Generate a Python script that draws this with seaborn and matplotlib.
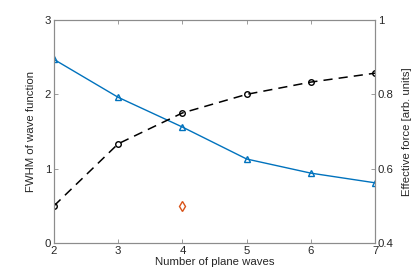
import pandas as pd
import seaborn as sns
import matplotlib
matplotlib.use("Agg")
import matplotlib.pyplot as plt

# data
n_waves = [2, 3, 4, 5, 6, 7]
fwhm = [2.47, 1.96, 1.56, 1.13, 0.94, 0.81]
eff_force = [0.5, 0.667, 0.75, 0.8, 0.833, 0.857]
single_x = [4]
single_y = [0.5]

x_ticks = [2, 3, 4, 5, 6, 7]
left_ticks = [0, 1, 2, 3]
right_ticks = [0.4, 0.6, 0.8, 1.0]
right_labels = ["0.4", "0.6", "0.8", "1"]

sns.set_style("white")
plt.rcParams["font.family"] = ["Liberation Sans", "DejaVu Sans"]
plt.rcParams["font.size"] = 8.2

blue = "#0072BD"
orange = "#D95319"
axis_col = "#262626"

fig = plt.figure(figsize=(4.15, 2.74), dpi=100)
ax = fig.add_axes([0.130, 0.113, 0.774, 0.814])
ax2 = ax.twinx()

df = pd.DataFrame({"n": n_waves, "fwhm": fwhm, "force": eff_force})

sns.lineplot(data=df, x="n", y="fwhm", ax=ax, color=blue, lw=1.0,
             marker="^", markersize=5, markerfacecolor="none",
             markeredgecolor=blue, markeredgewidth=1.0)
sns.lineplot(data=df, x="n", y="force", ax=ax2, color="black", lw=1.1,
             linestyle=(0, (6, 4)), marker="o", markersize=4,
             markerfacecolor="none", markeredgecolor="black",
             markeredgewidth=1.0)
sns.lineplot(x=single_x, y=single_y, ax=ax2, color=orange, lw=0,
             marker="d", markersize=5, markerfacecolor="none",
             markeredgecolor=orange, markeredgewidth=1.0)

ax.set_xlim(2, 7)
ax.set_ylim(0, 3)
ax2.set_ylim(0.4, 1.0)
ax.set_xticks(x_ticks)
ax.set_yticks(left_ticks)
ax2.set_yticks(right_ticks)
ax2.set_yticklabels(right_labels)

ax.set_xlabel("Number of plane waves", color=axis_col, labelpad=1)
ax.set_ylabel("FWHM of wave function", color=axis_col, labelpad=6)
ax2.set_ylabel("Effective force [arb. units]", color=axis_col, labelpad=6)

for a in (ax, ax2):
    for s in a.spines.values():
        s.set_color("#8c8c8c")
        s.set_linewidth(0.8)
ax.tick_params(axis="x", direction="in", length=3, width=0.6, color="#8c8c8c",
               labelcolor=axis_col, pad=2, top=True, bottom=True)
ax.tick_params(axis="y", direction="in", length=3, width=0.6, color="#8c8c8c",
               labelcolor=axis_col, pad=2, left=True, right=False)
ax2.tick_params(axis="y", direction="in", length=3, width=0.6, color="#8c8c8c",
                labelcolor=axis_col, pad=2, right=True, left=False)

fig.savefig("out.png", dpi=100)
